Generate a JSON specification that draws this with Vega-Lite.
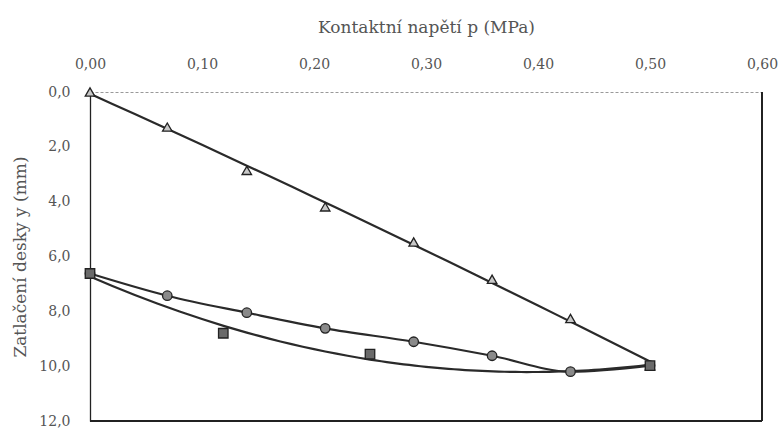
{
  "$schema": "https://vega.github.io/schema/vega-lite/v6.json",
  "width": 672,
  "height": 329,
  "autosize": {"type": "none"},
  "padding": {"left": 90, "top": 92, "right": 22, "bottom": 7},
  "background": "white",
  "config": {
    "view": {"stroke": null},
    "font": "DejaVu Serif",
    "axis": {"labelFont": "DejaVu Serif", "titleFont": "DejaVu Serif", "labelColor": "#555", "titleColor": "#555", "titleFontWeight": "normal", "labelFontSize": 14, "titleFontSize": 17, "grid": false, "ticks": false, "labelFlush": false}
  },
  "data": {"values": [
    {"series": "T", "p": 0.0, "y": 0.0},
    {"series": "T", "p": 0.069, "y": 1.28},
    {"series": "T", "p": 0.14, "y": 2.86},
    {"series": "T", "p": 0.21, "y": 4.19},
    {"series": "T", "p": 0.289, "y": 5.47},
    {"series": "T", "p": 0.359, "y": 6.83},
    {"series": "T", "p": 0.429, "y": 8.26},
    {"series": "T", "p": 0.5, "y": 9.98},
    {"series": "C", "p": 0.0, "y": 6.62},
    {"series": "C", "p": 0.069, "y": 7.43},
    {"series": "C", "p": 0.14, "y": 8.05},
    {"series": "C", "p": 0.21, "y": 8.62},
    {"series": "C", "p": 0.289, "y": 9.11},
    {"series": "C", "p": 0.359, "y": 9.62},
    {"series": "C", "p": 0.429, "y": 10.2},
    {"series": "C", "p": 0.5, "y": 9.98},
    {"series": "S", "p": 0.0, "y": 6.62},
    {"series": "S", "p": 0.119, "y": 8.8},
    {"series": "S", "p": 0.25, "y": 9.56},
    {"series": "S", "p": 0.5, "y": 9.98}
  ]},
  "layer": [
    {
      "transform": [
        {"filter": "datum.series === 'T'"},
        {"regression": "y", "on": "p", "method": "poly", "order": 2, "extent": [0, 0.5]}
      ],
      "mark": {"type": "line", "color": "#2a2a2a", "strokeWidth": 2.2},
      "encoding": {
        "x": {"field": "p", "type": "quantitative"},
        "y": {"field": "y", "type": "quantitative"}
      }
    },
    {
      "transform": [{"filter": "datum.series === 'C'"}],
      "mark": {"type": "line", "color": "#2a2a2a", "strokeWidth": 2.2, "interpolate": "monotone"},
      "encoding": {
        "x": {"field": "p", "type": "quantitative"},
        "y": {"field": "y", "type": "quantitative"}
      }
    },
    {
      "transform": [
        {"filter": "datum.series === 'S'"},
        {"regression": "y", "on": "p", "method": "poly", "order": 2, "extent": [0, 0.5]}
      ],
      "mark": {"type": "line", "color": "#2a2a2a", "strokeWidth": 2.2},
      "encoding": {
        "x": {"field": "p", "type": "quantitative"},
        "y": {"field": "y", "type": "quantitative"}
      }
    },
    {
      "mark": {"type": "point", "filled": true, "stroke": "#222", "strokeWidth": 1.3, "opacity": 1},
      "encoding": {
        "x": {
          "field": "p", "type": "quantitative",
          "scale": {"domain": [0, 0.6], "nice": false},
          "axis": {
            "orient": "top",
            "title": "Kontaktní napětí p  (MPa)",
            "values": [0, 0.1, 0.2, 0.3, 0.4, 0.5, 0.6],
            "labelExpr": "replace(format(datum.value, '.2f'), '.', ',')",
            "labelPadding": 21,
            "titlePadding": 21,
            "domainColor": "#999",
            "domainDash": [3, 2],
            "domainWidth": 1
          }
        },
        "y": {
          "field": "y", "type": "quantitative",
          "scale": {"domain": [0, 12], "reverse": true, "nice": false},
          "axis": {
            "title": "Zatlačení desky y  (mm)",
            "values": [0, 2, 4, 6, 8, 10, 12],
            "labelExpr": "replace(format(datum.value, '.1f'), '.', ',')",
            "labelPadding": 20,
            "titlePadding": 9,
            "domainColor": "#222",
            "domainWidth": 1.3
          }
        },
        "shape": {
          "field": "series", "type": "nominal",
          "scale": {"domain": ["T", "C", "S"], "range": ["triangle-up", "circle", "square"]},
          "legend": null
        },
        "fill": {
          "field": "series", "type": "nominal",
          "scale": {"domain": ["T", "C", "S"], "range": ["#c8c8c8", "#8a8a8a", "#6a6a6a"]},
          "legend": null
        },
        "size": {
          "field": "series", "type": "nominal",
          "scale": {"domain": ["T", "C", "S"], "range": [90, 90, 100]},
          "legend": null
        }
      }
    },
    {
      "mark": {"type": "rule", "color": "#222", "strokeWidth": 1.3},
      "encoding": {"y": {"datum": 12}}
    },
    {
      "mark": {"type": "rule", "color": "#222", "strokeWidth": 1.3},
      "encoding": {"x": {"datum": 0.6}}
    }
  ]
}
